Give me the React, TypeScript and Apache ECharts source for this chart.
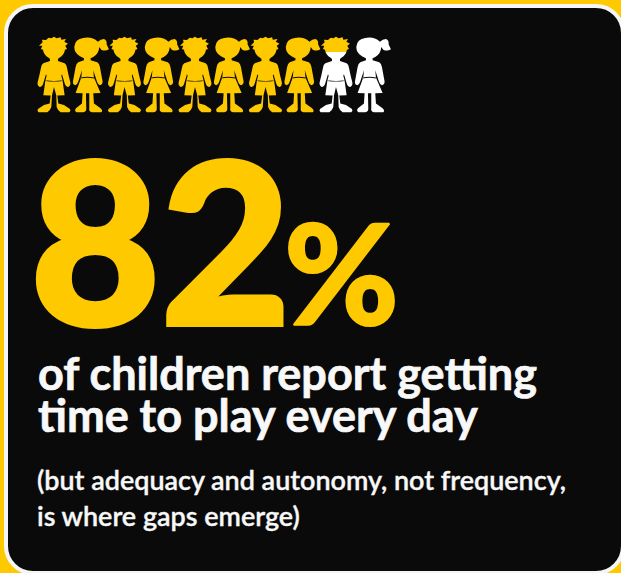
import React, { useEffect, useRef } from "react";
import * as echarts from "echarts";

// Headline share and the row of ten children it is shown on
const sharePercent = 82;
const figures = ["boy", "girl", "boy", "girl", "boy", "girl", "boy", "girl", "boy", "girl"];
const headlineNumber = String(sharePercent);
const headlineUnit = "%";
const statementLines = ["of children report getting", "time to play every day"];
const noteLines = ["(but adequacy and autonomy, not frequency,", "is where gaps emerge)"];

const YELLOW = "#ffc900";
const PANEL = "#0a0a0a";
const WHITE = "#ffffff";
const TEXT_WHITE = "#f8f8f8";

const BOY_PATH =
  "M27 62 L38 52 L36 44 L48 45 L56 38 L64 40 L72 35 L80 40 L92 37 L94 44 L108 42 L103 50 L114 56 L106 62 L111 72 L105 74 " +
  "Q103 90 88 98 L84 102 L84 108 L104 115 Q110 119 111 128 L116 152 L121 172 Q123 182 115 186 Q108 187 105 178 L96 148 L94 152 " +
  "L98 168 L104 211 L82 212 L85 236 L102 240 L120 252 Q124 258 118 262 L92 262 Q84 258 80 246 L79 212 L72 186 L66 212 L64 246 " +
  "Q60 258 52 262 L26 262 Q20 258 24 252 L42 240 L59 236 L62 212 L40 211 L46 168 L50 152 L48 148 L39 178 " +
  "Q36 187 29 186 Q21 182 23 172 L28 152 L33 128 Q34 119 40 115 L60 108 L60 102 L56 98 Q41 90 39 74 L33 72 L37 62 Z " +
  "M46 166 L46 168 Q72 172 98 168 L98 166 Q72 170 46 166 Z";

const GIRL_PATH =
  "M133 66 Q135 42 160 39 Q186 34 204 50 Q212 42 222 42 Q232 46 230 58 L237 73 Q226 80 214 74 L208 66 Q207 86 190 96 L182 100 " +
  "L182 106 L202 112 Q208 116 210 126 L218 170 Q218 180 210 181 Q204 180 201 170 L190 136 L192 158 L212 204 L190 205 L192 236 " +
  "L212 250 Q220 258 214 262 L186 262 Q176 260 178 250 L178 205 L168 205 L169 250 Q170 260 160 262 L140 262 Q132 258 138 250 " +
  "L156 236 L158 205 L137 204 L154 158 L156 136 L145 170 Q142 180 136 181 Q128 180 129 170 L137 126 Q139 116 145 112 L162 106 " +
  "L162 100 L150 94 Q133 84 133 66 Z M152 158 L152 161 Q172 156 192 161 L192 158 Q172 153 152 158 Z";

// Offsets from a figure's band centre to the origin of its outline
const FIGURE_SHAPES = {
  boy: { pathData: BOY_PATH, originX: 75 },
  girl: { pathData: GIRL_PATH, originX: 180.75 },
};
const OUTLINE_TOP = 35;
const OUTLINE_BOTTOM = 262;

// How much of figure i is filled when the share is spread over the whole row
const figureFill = (i: number) =>
  Math.max(0, Math.min(1, (sharePercent / 100) * figures.length - i));

const figureData = figures.map((_, i) => [i, 1, figureFill(i)]);

const renderFigure = (params: any, api: any) => {
  const i = api.value(0);
  const fill = api.value(2);
  const kind = figures[i] as keyof typeof FIGURE_SHAPES;
  const shape = FIGURE_SHAPES[kind];
  const [cx, top] = api.coord([i, 1]);
  const scale = api.size([0, 1])[1] / (OUTLINE_BOTTOM - OUTLINE_TOP);
  const colour =
    fill >= 1
      ? YELLOW
      : fill <= 0
        ? WHITE
        : new echarts.graphic.LinearGradient(0, 0, 0, 1, [
            { offset: 0, color: YELLOW },
            { offset: fill, color: YELLOW },
            { offset: fill, color: WHITE },
            { offset: 1, color: WHITE },
          ]);
  return {
    type: "path",
    x: cx - shape.originX * scale,
    y: top - OUTLINE_TOP * scale,
    scaleX: scale,
    scaleY: scale,
    shape: { pathData: shape.pathData },
    style: { fill: colour },
  };
};

const label = (
  text: string,
  x: number,
  y: number,
  fontSize: number,
  fontWeight: number | string,
  fill: string,
  embolden = 0,
) => ({
  type: "text",
  x,
  y,
  silent: true,
  style: {
    text,
    x: 0,
    y: 0,
    fill,
    stroke: embolden ? fill : undefined,
    lineWidth: embolden,
    fontFamily: "Lato",
    fontSize,
    fontWeight,
    textAlign: "left",
    textVerticalAlign: "bottom",
  },
});

export default function App() {
  const ref = useRef<HTMLDivElement>(null);

  useEffect(() => {
    document.body.style.margin = "0";
    const chart = echarts.init(ref.current!, undefined, { renderer: "svg" });
    chart.setOption({
      animation: false,
      backgroundColor: YELLOW,
      grid: { left: 37.375, top: 36.67, width: 352.5, height: 75.67 },
      xAxis: { type: "category", data: figures, show: false },
      yAxis: { type: "value", min: 0, max: 1, show: false },
      graphic: [
        {
          type: "rect",
          z: -10,
          silent: true,
          shape: { x: 6, y: 6, width: 617, height: 567, r: 27 },
          style: { fill: PANEL, stroke: "#f6f6f6", lineWidth: 4 },
        },
        label(headlineNumber, 30, 350, 225, 900, YELLOW, 4),
        label(headlineUnit, 284, 341, 139, 900, YELLOW, 2),
        label(statementLines[0], 38, 395, 45, 700, TEXT_WHITE, 0.7),
        label(statementLines[1], 38, 437, 45, 700, TEXT_WHITE, 0.7),
        label(noteLines[0], 37, 493, 26.95, 600, TEXT_WHITE, 0.35),
        label(noteLines[1], 37, 529, 26.95, 600, TEXT_WHITE, 0.35),
      ],
      series: [
        {
          type: "custom",
          coordinateSystem: "cartesian2d",
          data: figureData,
          renderItem: renderFigure,
          clip: false,
          silent: true,
        },
      ],
    });
    return () => chart.dispose();
  }, []);

  return <div ref={ref} style={{ width: 621, height: 573 }} />;
}
